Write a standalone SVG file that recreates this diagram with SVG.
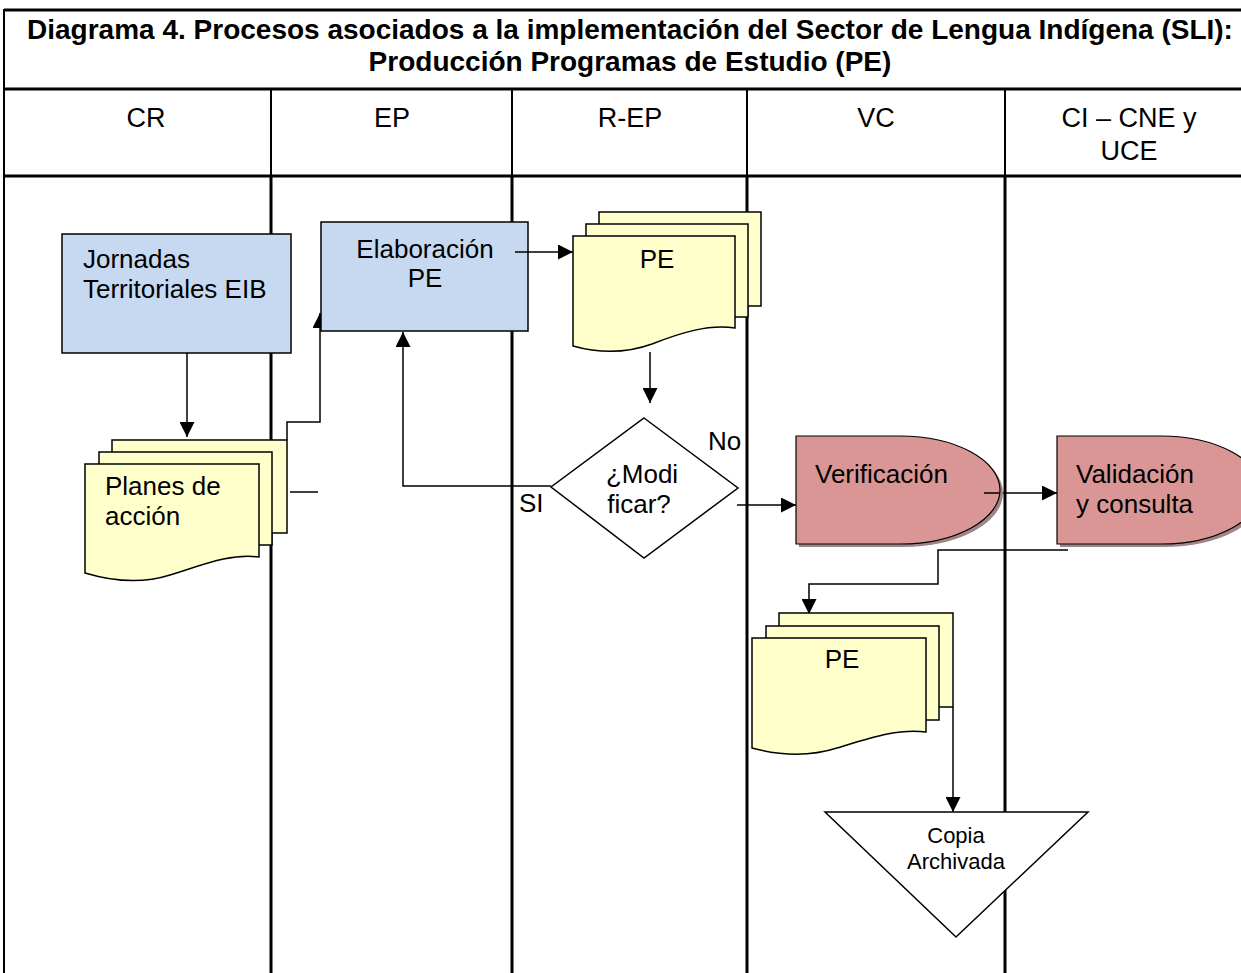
<svg xmlns="http://www.w3.org/2000/svg" width="1241" height="973" viewBox="0 0 1241 973">
<defs>
<style>
text{font-family:"Liberation Sans",Arial,sans-serif;fill:#000}
.title{font-size:28px;font-weight:bold;text-anchor:middle}
.lane{font-size:27px;text-anchor:middle}
.n{font-size:26px}
.c{text-anchor:middle}
.grid{stroke:#000;stroke-width:3;fill:none}
.gridthin{stroke:#000;stroke-width:2;fill:none}
.proc{fill:#c6d9f1;stroke:#000;stroke-width:1.5}
.doc{fill:#ffffcc;stroke:#000;stroke-width:1.5}
.delay{fill:#d99694;stroke:#000;stroke-width:1.2}
.shadow{fill:#9e8686;stroke:none}
.plain{fill:#fff;stroke:#000;stroke-width:1.5}
.conn{stroke:#000;stroke-width:1.5;fill:none}
</style>
<marker id="arr" viewBox="0 0 10 10" refX="10" refY="5" markerWidth="10" markerHeight="10" markerUnits="userSpaceOnUse" orient="auto">
<path d="M0,0 L10,5 L0,10 Z" fill="#000"/>
</marker>
<marker id="arrL" viewBox="0 0 10 10" refX="10" refY="5" markerWidth="15" markerHeight="15" markerUnits="userSpaceOnUse" orient="auto">
<path d="M0,0 L10,5 L0,10 Z" fill="#000"/>
</marker>
</defs>
<rect width="1241" height="973" fill="#fff"/>
<g id="table">
<line class="grid" x1="4" y1="10" x2="1241" y2="10"/>
<line class="grid" x1="4" y1="89" x2="1241" y2="89"/>
<line class="grid" x1="4" y1="176" x2="1241" y2="176"/>
<line class="gridthin" x1="4" y1="9" x2="4" y2="973"/>
<line class="gridthin" x1="271" y1="89" x2="271" y2="176"/>
<line class="gridthin" x1="512" y1="89" x2="512" y2="176"/>
<line class="gridthin" x1="747" y1="89" x2="747" y2="176"/>
<line class="gridthin" x1="1005" y1="89" x2="1005" y2="176"/>
<line class="grid" x1="271" y1="176" x2="271" y2="973"/>
<line class="grid" x1="512" y1="176" x2="512" y2="973"/>
<line class="grid" x1="747" y1="176" x2="747" y2="973"/>
<line class="grid" x1="1005" y1="176" x2="1005" y2="973"/>
<text class="title" x="630" y="39">Diagrama 4. Procesos asociados a la implementación del Sector de Lengua Indígena (SLI):</text>
<text class="title" x="630" y="71">Producción Programas de Estudio (PE)</text>
<text class="lane" x="146" y="127">CR</text>
<text class="lane" x="392" y="127">EP</text>
<text class="lane" x="630" y="127">R-EP</text>
<text class="lane" x="876" y="127">VC</text>
<text class="lane" x="1129" y="127">CI – CNE y</text>
<text class="lane" x="1129" y="160">UCE</text>
</g>
<g id="connectors">
<line class="conn" x1="187" y1="353" x2="187" y2="437" marker-end="url(#arrL)"/>
<polyline class="conn" points="287,440 287,422 320,422 320,313" marker-end="url(#arrL)"/>
<line class="conn" x1="290" y1="492" x2="318" y2="492"/>
<line class="conn" x1="515" y1="252" x2="573" y2="252" marker-end="url(#arrL)"/>
<line class="conn" x1="650" y1="352" x2="650" y2="403" marker-end="url(#arrL)"/>
<polyline class="conn" points="551,486 403,486 403,332" marker-end="url(#arrL)"/>
<line class="conn" x1="737" y1="505" x2="796" y2="505" marker-end="url(#arrL)"/>
<line class="conn" x1="984" y1="493" x2="1057" y2="493" marker-end="url(#arrL)"/>
<polyline class="conn" points="1068,550 938,550 938,584 809,584 809,614" marker-end="url(#arrL)"/>
<line class="conn" x1="953" y1="707" x2="953" y2="812" marker-end="url(#arrL)"/>
</g>
<g id="jornadas">
<rect class="proc" x="62" y="234" width="229" height="119"/>
<text class="n" x="83" y="268">Jornadas</text>
<text class="n" x="83" y="298">Territoriales EIB</text>
</g>
<g id="planes">
<rect class="doc" x="112" y="440" width="175" height="93"/>
<rect class="doc" x="99" y="452" width="173" height="93"/>
<path class="doc" d="M85,464 H259 V557 C230,553 200,566 170,575 C145,583 115,582 85,573 Z"/>
<text class="n" x="105" y="495">Planes de</text>
<text class="n" x="105" y="525">acción</text>
</g>
<g id="elaboracion">
<rect class="proc" x="321" y="222" width="207" height="109"/>
<text class="n c" x="425" y="258">Elaboración</text>
<text class="n c" x="425" y="287">PE</text>
<line class="conn" x1="515" y1="252" x2="528" y2="252"/>
</g>
<g id="pe1">
<rect class="doc" x="599" y="212" width="162" height="94"/>
<rect class="doc" x="586" y="224" width="162" height="93"/>
<path class="doc" d="M573,236 H735 V328 C708,324 680,333 652,344 C630,352 605,355 573,346 Z"/>
<text class="n c" x="657" y="268">PE</text>
</g>
<g id="modificar">
<polygon class="plain" points="644,418 738,488 644,558 551,487"/>
<text class="n c" x="642" y="483">¿Modi</text>
<text class="n c" x="639" y="513">ficar?</text>
<text class="n" x="708" y="450">No</text>
<text class="n" x="519" y="512">SI</text>
</g>
<g id="verificacion">
<path class="shadow" d="M799,439 H903 A100,54 0 0 1 903,547 H799 Z"/>
<path class="delay" d="M796,436 H900 A100,54 0 0 1 900,544 H796 Z"/>
<text class="n" x="815" y="483">Verificación</text>
<line class="conn" x1="984" y1="493" x2="1000" y2="493"/>
</g>
<g id="validacion">
<path class="shadow" d="M1060,439 H1164 A100,54 0 0 1 1164,547 H1060 Z"/>
<path class="delay" d="M1057,436 H1161 A100,54 0 0 1 1161,544 H1057 Z"/>
<text class="n" x="1076" y="483">Validación</text>
<text class="n" x="1076" y="513">y consulta</text>
</g>
<g id="pe2">
<rect class="doc" x="779" y="613" width="174" height="94"/>
<rect class="doc" x="766" y="626" width="173" height="94"/>
<path class="doc" d="M752,638 H926 V732 C897,728 867,739 837,748 C812,756 782,756 752,748 Z"/>
<text class="n c" x="842" y="668">PE</text>
</g>
<g id="copia">
<polygon class="plain" points="825,812 1088,812 956,937"/>
<text class="c" x="956" y="843" font-size="22">Copia</text>
<text class="c" x="956" y="869" font-size="22">Archivada</text>
</g>
</svg>
